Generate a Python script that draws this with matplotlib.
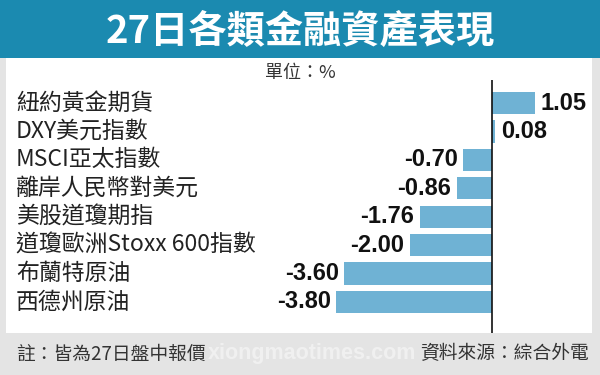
import matplotlib
matplotlib.use("Agg")
import matplotlib.pyplot as plt
from matplotlib.patches import Rectangle
import matplotlib.transforms as mtransforms

categories = ["紐約黃金期貨", "DXY美元指數", "MSCI亞太指數", "離岸人民幣對美元",
              "美股道瓊期指", "道瓊歐洲Stoxx 600指數", "布蘭特原油", "西德州原油"]
values = [1.05, 0.08, -0.70, -0.86, -1.76, -2.00, -3.60, -3.80]
value_labels = ["1.05", "0.08", "-0.70", "-0.86", "-1.76", "-2.00", "-3.60", "-3.80"]
title = "27日各類金融資產表現"
unit = "單位：%"
note = "註：皆為27日盤中報價"
source = "資料來源：綜合外電"
watermark = "xiongmaotimes.com"

CJK = ["Noto Sans CJK TC", "DejaVu Sans"]
W, H = 600, 375
fig = plt.figure(figsize=(W / 100, H / 100), dpi=100)
fig.patch.set_facecolor("#e4e4e4")

def px(x, y):
    return x / W, 1 - y / H

# banner
fig.patches.append(Rectangle((0, 1 - 58 / H), 1, 58 / H, transform=fig.transFigure,
                             facecolor="#1b8ab0", edgecolor="none", zorder=-2))
# white panel
fig.patches.append(Rectangle(px(6, 333), (592 - 6) / W, (333 - 58) / H, transform=fig.transFigure,
                             facecolor="white", edgecolor="none", zorder=-2))

fig.text(*px(300, 31), title, ha="center", va="center", color="white",
         fontsize=27.5, fontweight="bold", family=CJK)
fig.text(*px(300, 73), unit, ha="center", va="center", color="#333333",
         fontsize=13, family=CJK)

# axes: x from 6 to 592 px, y from 80 to 333 px
ax_left, ax_right, ax_top, ax_bot = 6, 592, 80, 333
ax = fig.add_axes([ax_left / W, 1 - ax_bot / H, (ax_right - ax_left) / W, (ax_bot - ax_top) / H])
ax.set_zorder(2)
ax.set_facecolor("none")
ppu = 41.0
zero_px = 492
ax.set_xlim(-(zero_px - ax_left) / ppu, (ax_right - zero_px) / ppu)
spacing = (302 - 103) / 7
ax.set_ylim(7 + (ax_bot - 302) / spacing, -(103 - ax_top) / spacing)

ypos = list(range(len(categories)))
ax.barh(ypos, values, height=0.78, color="#6fb2d4", edgecolor="none", zorder=2)
ax.axvline(0, color="#111111", linewidth=1.2, zorder=3)

for y, v, lab in zip(ypos, values, value_labels):
    off = 4 if v >= 0 else -4
    ax.annotate(lab, (v, y), xytext=(off, 0), textcoords="offset points",
                ha="left" if v >= 0 else "right", va="center",
                fontsize=17, fontweight="bold", family="Liberation Sans", color="#111111")

trans = mtransforms.blended_transform_factory(fig.transFigure, ax.transData)
for y, c in zip(ypos, categories):
    ax.text(16 / W, y, c, transform=trans, ha="left", va="center",
            fontsize=16.5, family=CJK, color="#222222")

for s in ax.spines.values():
    s.set_visible(False)
ax.set_xticks([])
ax.set_yticks([])

fig.text(*px(312, 353), watermark, ha="center", va="center", color="white", alpha=0.45,
         fontsize=15.5, fontweight="bold", family="Liberation Sans")
fig.text(*px(16, 354), note, ha="left", va="center", color="#333333", fontsize=13.5, family=CJK)
fig.text(*px(589, 354), source, ha="right", va="center", color="#333333", fontsize=13.5, family=CJK)

fig.savefig("out.png", dpi=100, facecolor=fig.get_facecolor())
